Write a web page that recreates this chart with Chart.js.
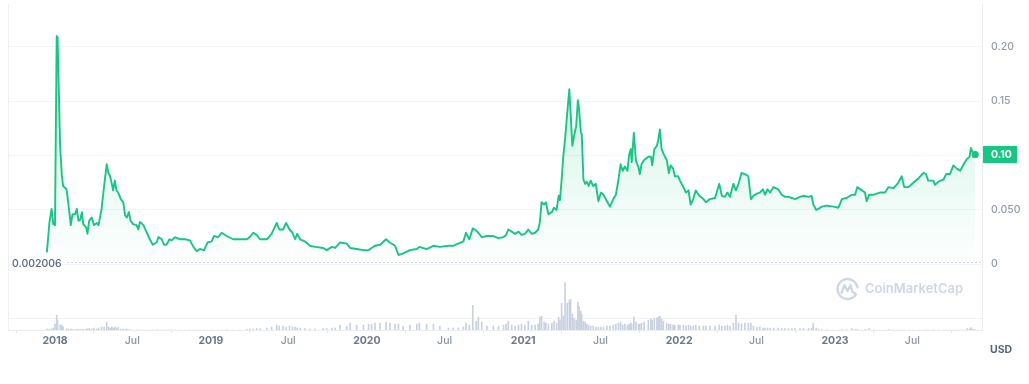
<!DOCTYPE html>
<html><head><meta charset="utf-8">
<script src="https://cdn.jsdelivr.net/npm/chart.js@4.4.0/dist/chart.umd.min.js"></script>
<style>html,body{margin:0;padding:0;background:#fff;}#wrap{width:1029px;height:384px;position:relative;}</style>
</head><body><div id="wrap"><canvas id="c"></canvas></div>
<script>
// ---- data ----
const dates = [
'2017-12-13','2017-12-19','2017-12-24','2017-12-28','2018-01-01','2018-01-05','2018-01-07','2018-01-13','2018-01-17','2018-01-20',
'2018-01-28','2018-02-01','2018-02-07','2018-02-11','2018-02-17','2018-02-21','2018-02-25','2018-03-01','2018-03-05','2018-03-08',
'2018-03-15','2018-03-18','2018-03-22','2018-03-28','2018-04-02','2018-04-09','2018-04-13','2018-04-20','2018-04-26','2018-05-02',
'2018-05-06','2018-05-10','2018-05-14','2018-05-17','2018-05-21','2018-05-25','2018-05-29','2018-06-04','2018-06-10','2018-06-14',
'2018-06-18','2018-06-23','2018-06-27','2018-07-03','2018-07-11','2018-07-15','2018-07-19','2018-07-27','2018-08-04','2018-08-11',
'2018-08-18','2018-08-27','2018-08-31','2018-09-08','2018-09-13','2018-09-19','2018-09-26','2018-10-01','2018-10-09','2018-10-21',
'2018-11-01','2018-11-13','2018-11-21','2018-11-29','2018-12-06','2018-12-16','2018-12-24','2019-01-03','2019-01-08','2019-01-18',
'2019-01-26','2019-02-07','2019-02-22','2019-03-10','2019-03-26','2019-04-02','2019-04-10','2019-04-18','2019-04-26','2019-05-12',
'2019-05-23','2019-06-04','2019-06-10','2019-06-19','2019-06-26','2019-07-04','2019-07-11','2019-07-17','2019-07-22','2019-07-29',
'2019-08-09','2019-08-21','2019-09-02','2019-09-21','2019-09-29','2019-10-11','2019-10-19','2019-10-30','2019-11-15','2019-11-23',
'2019-12-08','2019-12-24','2020-01-05','2020-01-12','2020-01-20','2020-02-01','2020-02-15','2020-02-24','2020-03-07','2020-03-15',
'2020-03-26','2020-04-11','2020-04-27','2020-05-03','2020-05-20','2020-06-05','2020-06-20','2020-07-10','2020-07-21','2020-08-02',
'2020-08-14','2020-08-20','2020-08-28','2020-09-05','2020-09-13','2020-09-18','2020-09-26','2020-10-08','2020-10-23','2020-11-04',
'2020-11-16','2020-11-22','2020-11-27','2020-12-05','2020-12-13','2020-12-21','2020-12-28','2021-01-05','2021-01-13','2021-01-21',
'2021-01-29','2021-02-05','2021-02-09','2021-02-13','2021-02-19','2021-02-23','2021-03-01','2021-03-09','2021-03-14','2021-03-20',
'2021-03-25','2021-03-28','2021-04-01','2021-04-05','2021-04-09','2021-04-14','2021-04-19','2021-04-22','2021-04-26','2021-04-30',
'2021-05-05','2021-05-09','2021-05-12','2021-05-16','2021-05-18','2021-05-22','2021-05-26','2021-05-30','2021-06-03','2021-06-08',
'2021-06-14','2021-06-20','2021-06-26','2021-07-02','2021-07-08','2021-07-16','2021-07-23','2021-07-31','2021-08-06','2021-08-12',
'2021-08-17','2021-08-22','2021-08-27','2021-09-02','2021-09-06','2021-09-10','2021-09-12','2021-09-17','2021-09-22','2021-09-28',
'2021-10-01','2021-10-05','2021-10-11','2021-10-21','2021-10-27','2021-10-30','2021-11-04','2021-11-10','2021-11-13','2021-11-17',
'2021-11-21','2021-11-25','2021-12-03','2021-12-08','2021-12-12','2021-12-18','2021-12-22','2021-12-30','2022-01-03','2022-01-11',
'2022-01-17','2022-01-23','2022-01-28','2022-02-03','2022-02-09','2022-02-17','2022-02-27','2022-03-05','2022-03-14','2022-03-26',
'2022-04-05','2022-04-11','2022-04-18','2022-04-24','2022-04-30','2022-05-08','2022-05-14','2022-05-20','2022-05-27','2022-06-04',
'2022-06-12','2022-06-18','2022-06-24','2022-07-02','2022-07-09','2022-07-16','2022-07-21','2022-07-27','2022-08-02','2022-08-10',
'2022-08-21','2022-08-29','2022-09-06','2022-09-14','2022-09-22','2022-09-29','2022-10-11','2022-10-19','2022-10-31','2022-11-07',
'2022-11-11','2022-11-18','2022-11-23','2022-12-01','2022-12-13','2022-12-28','2023-01-09','2023-01-17','2023-01-28','2023-02-09',
'2023-02-17','2023-02-22','2023-03-05','2023-03-12','2023-03-16','2023-03-22','2023-04-01','2023-04-16','2023-04-28','2023-05-06',
'2023-05-18','2023-05-29','2023-06-06','2023-06-12','2023-06-22','2023-07-03','2023-07-15','2023-07-27','2023-08-02','2023-08-07',
'2023-08-19','2023-08-23','2023-08-31','2023-09-12','2023-09-18','2023-09-27','2023-10-05','2023-10-13','2023-10-21','2023-10-29',
'2023-11-06','2023-11-12','2023-11-15','2023-11-20','2023-11-25'];

const prices = [
0.011,0.0385,0.051,0.037,0.036,0.21,0.209,0.109,0.082,0.072,
0.069,0.057,0.036,0.046,0.046,0.051,0.040,0.041,0.048,0.037,
0.034,0.028,0.040,0.043,0.036,0.038,0.036,0.051,0.072,0.092,
0.084,0.081,0.074,0.068,0.077,0.068,0.066,0.060,0.057,0.045,
0.043,0.048,0.040,0.037,0.036,0.032,0.039,0.036,0.029,0.023,
0.018,0.020,0.025,0.023,0.018,0.018,0.023,0.022,0.025,0.023,
0.023,0.022,0.016,0.012,0.014,0.013,0.020,0.021,0.026,0.025,
0.029,0.026,0.023,0.023,0.023,0.025,0.029,0.027,0.023,0.023,
0.028,0.038,0.032,0.032,0.038,0.032,0.029,0.023,0.028,0.023,
0.021,0.017,0.016,0.015,0.013,0.016,0.015,0.020,0.019,0.015,
0.014,0.013,0.013,0.015,0.017,0.018,0.023,0.020,0.017,0.0085,
0.010,0.013,0.014,0.016,0.014,0.017,0.016,0.017,0.017,0.019,
0.021,0.029,0.023,0.033,0.031,0.029,0.025,0.026,0.026,0.024,
0.025,0.027,0.032,0.030,0.028,0.030,0.027,0.028,0.032,0.028,
0.029,0.032,0.039,0.057,0.055,0.057,0.046,0.048,0.052,0.050,
0.063,0.059,0.078,0.100,0.115,0.139,0.161,0.139,0.109,0.118,
0.127,0.151,0.142,0.121,0.120,0.078,0.074,0.076,0.072,0.077,
0.072,0.074,0.058,0.066,0.064,0.058,0.053,0.060,0.064,0.078,
0.092,0.086,0.090,0.086,0.101,0.106,0.094,0.121,0.095,0.089,
0.083,0.092,0.096,0.099,0.099,0.091,0.106,0.109,0.114,0.124,
0.106,0.102,0.096,0.084,0.091,0.088,0.081,0.081,0.077,0.071,
0.066,0.068,0.055,0.060,0.068,0.063,0.060,0.057,0.060,0.061,
0.074,0.063,0.062,0.066,0.062,0.074,0.068,0.074,0.084,0.083,
0.081,0.060,0.063,0.065,0.066,0.069,0.064,0.069,0.066,0.071,
0.069,0.064,0.062,0.062,0.061,0.060,0.062,0.063,0.062,0.063,
0.055,0.050,0.051,0.053,0.054,0.053,0.052,0.060,0.061,0.064,
0.064,0.071,0.068,0.066,0.058,0.064,0.064,0.066,0.066,0.071,
0.070,0.075,0.081,0.071,0.071,0.075,0.079,0.084,0.083,0.077,
0.077,0.073,0.076,0.078,0.083,0.083,0.091,0.088,0.086,0.092,
0.097,0.099,0.107,0.102,0.101];

// trading volume (millions USD)
const volumes = [
1,1,1,2,6,15,10,5,5,3,
1,1,1,0.5,0.5,0.5,0.5,0.5,0.5,0.5,
1,1,1.5,1,2,1,2,3,3,8,
3,2,3,2,3,2,2.5,1,1,0.5,
1,0.5,0,0,0,0,0,0,0,0,
0,0,0,0,0,0,0,0,0,0,
0,0,0,0,0,0,0,0,0,0,
0,0.5,0,0,0.5,1,1,1.5,1.5,2,
3,5,4,4,3,4,3,3,2,2,
1.5,1,1,1.5,1.5,2,2,5,4,7,
5,5,6,6,7,7,8,7,6,6,
4,5,6,7,6,6,4,2,2,2,
3,7,5,25,9,13,8,4,4,4,
5,6,9,5,4,5,6,5,9,5,
5,6,13,14,8,7,6,7,9,7,
13,10,27,14,48,27,30,31,16,12,
10,28,24,19,16,9,8,6,5,4,
4,3,3,3,3,4,4,5,6,7,
8,5,6,5,6,7,6,13,8,6,
6,7,8,10,11,10,12,12,13,14,
11,9,7,6,6,5,5,5,5,5,
4,5,4,4,5,4,4,4,4,4,
5,4,4,5,4,7,15,7,6,7,
7,7,4,3,3,2,2,2,2,2,
2,1.5,1.5,1.5,1.5,1.5,1.5,1.5,1.5,2,
7,2,1,0.5,0.5,0,0,0.5,0.5,1.5,
0.5,0.5,0,0.5,0,1.5,0,0,0,0.5,
0,0,0,0,0,0,0,0,0,0,
0,0,0,0,0,0,0,0,0,0,
1.5,1,2.5,1,0.5];

const xTickDates  = ['2018-01-01','2018-07-01','2019-01-01','2019-07-01','2020-01-01','2020-07-01','2021-01-01','2021-07-01','2022-01-01','2022-07-01','2023-01-01','2023-07-01'];
const xTickLabels = ['2018','Jul','2019','Jul','2020','Jul','2021','Jul','2022','Jul','2023','Jul'];
const yTickValues = [0, 0.05, 0.10, 0.15, 0.20];
const yTickLabels = ['0', '0.050', '0.10', '0.15', '0.20'];
const xRange = ['2017-09-13', '2023-12-11'];
const priceRange = [-0.0605, 0.2395];
const volumeRange = [0, 330];
const volumeGridValue = 12;
const lowValue = 0.002006, lowLabel = '0.002006';
const currentLabel = '0.10';
const currencyLabel = 'USD';
const watermark = 'CoinMarketCap';

// ---- chart ----
const ts = s => Date.parse(s + 'T00:00:00Z');
const GREEN = '#16c784';
const last = prices.length - 1;

const decor = {
  id: 'decor',
  beforeDatasetsDraw(chart) {
    const {ctx, chartArea: a, scales} = chart;
    ctx.save();
    ctx.lineWidth = 1;
    ctx.strokeStyle = '#eceff3';
    ctx.beginPath(); ctx.moveTo(a.left + 0.5, a.top); ctx.lineTo(a.left + 0.5, a.bottom); ctx.stroke();
    const gy = Math.round(scales.yv.getPixelForValue(volumeGridValue)) + 0.5;
    ctx.strokeStyle = '#f0f2f5';
    ctx.beginPath(); ctx.moveTo(a.left, gy); ctx.lineTo(a.right, gy); ctx.stroke();
    // watermark
    const cx = a.right - 134.5, cy = a.bottom - 41;
    ctx.strokeStyle = '#cfd6e4'; ctx.lineWidth = 2.3; ctx.lineCap = 'round'; ctx.lineJoin = 'round';
    ctx.beginPath(); ctx.arc(cx, cy, 10, 0.2 * Math.PI, 1.95 * Math.PI); ctx.stroke();
    ctx.beginPath();
    ctx.moveTo(cx - 6, cy + 4); ctx.lineTo(cx - 3, cy - 4); ctx.lineTo(cx, cy + 2);
    ctx.lineTo(cx + 3, cy - 4); ctx.lineTo(cx + 5, cy + 3); ctx.lineTo(cx + 8.5, cy + 5);
    ctx.stroke();
    let size = 16;
    ctx.font = `600 ${size}px Inter`;
    size = size * 98 / ctx.measureText(watermark).width;
    ctx.font = `600 ${size}px Inter`;
    ctx.fillStyle = '#cfd6e4'; ctx.textBaseline = 'middle'; ctx.textAlign = 'left';
    ctx.fillText(watermark, cx + 17.5, cy + 0.5);
    ctx.restore();
  },
  afterDraw(chart) {
    const {ctx, chartArea: a, scales} = chart;
    ctx.save();
    // low reference line
    const ly = Math.round(scales.y.getPixelForValue(lowValue)) + 0.5;
    ctx.font = '500 10.5px Inter'; ctx.fillStyle = '#58667e';
    ctx.textBaseline = 'middle'; ctx.textAlign = 'left';
    ctx.fillText(lowLabel, a.left + 4, ly + 1);
    const tw = ctx.measureText(lowLabel).width;
    ctx.strokeStyle = '#a6afc0'; ctx.lineWidth = 1; ctx.setLineDash([1, 3]);
    ctx.beginPath(); ctx.moveTo(a.left + 4 + tw + 6, ly); ctx.lineTo(a.right, ly); ctx.stroke();
    ctx.setLineDash([]);
    // current price badge
    const py = scales.y.getPixelForValue(prices[last]);
    ctx.fillStyle = GREEN;
    ctx.fillRect(a.right + 1, py - 8.5, 34, 17);
    ctx.fillStyle = '#ffffff'; ctx.font = '700 10.5px Inter';
    ctx.fillText(currentLabel, a.right + 9, py + 0.5);
    // currency
    ctx.fillStyle = '#58667e'; ctx.font = '700 10.5px Inter';
    ctx.fillText(currencyLabel, a.right + 8, a.bottom + 19.5);
    ctx.restore();
  }
};

new Chart(document.getElementById('c'), {
  type: 'line',
  data: {
    datasets: [{
      type: 'line',
      yAxisID: 'y',
      order: 0,
      data: dates.map((d, i) => ({x: ts(d), y: prices[i]})),
      borderColor: GREEN,
      borderWidth: 1.9,
      borderJoinStyle: 'round',
      tension: 0,
      pointRadius: ctx => ctx.dataIndex === last ? 3.6 : 0,
      pointBackgroundColor: GREEN,
      pointBorderWidth: 0,
      fill: {value: 0},
      backgroundColor: ctx => {
        const ch = ctx.chart, a = ch.chartArea;
        if (!a) return 'rgba(22,199,132,0.1)';
        const y0 = ch.scales.y.getPixelForValue(0);
        const g = ch.ctx.createLinearGradient(0, a.top, 0, y0);
        g.addColorStop(0, 'rgba(22,199,132,0.28)');
        g.addColorStop(1, 'rgba(22,199,132,0.0)');
        return g;
      }
    }, {
      type: 'bar',
      yAxisID: 'yv',
      order: 1,
      data: dates.map((d, i) => ({x: ts(d), y: volumes[i]})),
      backgroundColor: '#c9d1e1',
      barThickness: 1,
      grouped: false
    }]
  },
  options: {
    responsive: true,
    maintainAspectRatio: false,
    animation: false,
    devicePixelRatio: 1,
    layout: {padding: {left: 8, right: 0, top: 0, bottom: 0}},
    plugins: {legend: {display: false}, tooltip: {enabled: false}},
    scales: {
      x: {
        type: 'linear',
        offset: false,
        min: ts(xRange[0]),
        max: ts(xRange[1]),
        afterBuildTicks: s => { s.ticks = xTickDates.map(d => ({value: ts(d)})); },
        afterFit: s => { s.height = 54; s.paddingLeft = 0; s.paddingRight = 0; },
        grid: {drawOnChartArea: false, drawTicks: true, tickLength: 3, tickColor: '#e3e7ed'},
        border: {display: true, color: '#e9ecf1'},
        ticks: {
          autoSkip: false, maxRotation: 0, padding: 2,
          callback: (v, i) => xTickLabels[i],
          font: ctx => ({family: 'Inter', size: 10.5, weight: xTickLabels[ctx.index] === 'Jul' ? '500' : '700'}),
          color: ctx => xTickLabels[ctx.index] === 'Jul' ? '#8a93a6' : '#6b778c'
        }
      },
      y: {
        position: 'right',
        min: priceRange[0], max: priceRange[1],
        afterBuildTicks: s => { s.ticks = yTickValues.map(v => ({value: v})); },
        afterFit: s => { s.width = 47; s.paddingTop = 0; s.paddingBottom = 0; },
        grid: {color: '#f2f4f7', drawTicks: false},
        border: {display: true, color: '#e9ecf1'},
        ticks: {
          padding: 9,
          callback: (v, i) => yTickLabels[i],
          font: {family: 'Inter', size: 10.5, weight: '500'},
          color: '#939bad'
        }
      },
      yv: {
        display: false,
        min: volumeRange[0], max: volumeRange[1]
      }
    }
  },
  plugins: [decor]
});
</script>
</body></html>
